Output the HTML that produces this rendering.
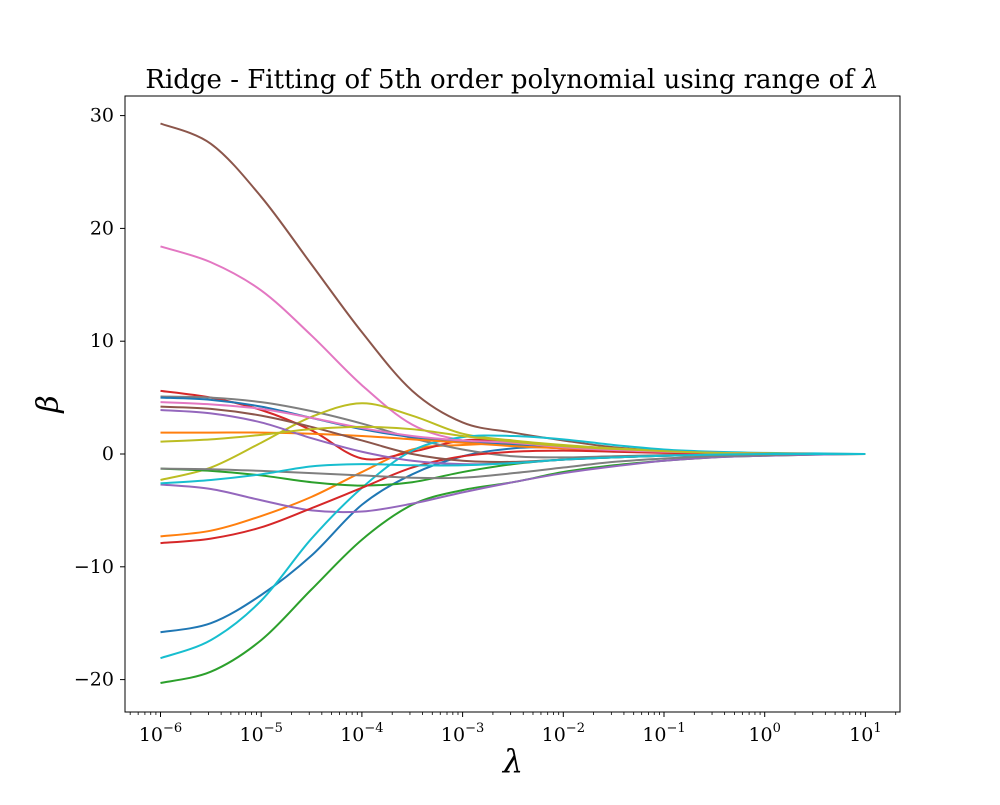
<!DOCTYPE html>
<html><head><meta charset="utf-8"><style>
html,body{margin:0;padding:0;background:#fff;}
svg text{font-family:"DejaVu Serif","Liberation Serif",serif;fill:#000;}
</style></head><body>
<svg id="chart" width="1000" height="800" xmlns="http://www.w3.org/2000/svg">
<rect width="1000" height="800" fill="#fff"/>
<text x="512" y="88" font-size="26" text-anchor="middle">Ridge - Fitting of 5th order polynomial using range of <tspan font-style="italic">λ</tspan></text>
<g id="lines"></g>
<rect x="125" y="96" width="775" height="616" fill="none" stroke="#000" stroke-width="1"/>
<g id="axes"></g>
<text x="513" y="772" font-size="32" font-style="italic" text-anchor="middle">λ</text>
<text transform="translate(58,404) rotate(-90)" font-size="30" font-style="italic" text-anchor="middle">β</text>
</svg>
<script>
const logLambda = [-6,-5.5,-5,-4.5,-4,-3.5,-3,-2.5,-2,-1.5,-1,-0.5,0,0.5,1];
const colors = ["#1f77b4","#ff7f0e","#2ca02c","#d62728","#9467bd","#8c564b","#e377c2","#7f7f7f","#bcbd22","#17becf"];
const seriesBlueLow   = [-15.8,-15,-12.5,-9,-4.5,-1.8,-0.2,0.5,0.6,0.4,0.2,0.1,0.05,0,0];
const seriesOrangeLow = [-7.3,-6.8,-5.5,-3.8,-1.6,0.4,0.8,0.9,0.7,0.4,0.2,0.1,0.05,0,0];
const seriesGreenLow  = [-20.3,-19.3,-16.5,-12,-7.6,-4.5,-3.2,-2.5,-1.6,-1,-0.6,-0.3,-0.15,-0.05,0];
const seriesRedUp     = [5.6,5.0,3.9,2.1,-0.4,0.2,1.2,1.1,0.7,0.4,0.2,0.1,0.05,0,0];
const seriesPurpleLow = [-2.7,-3.1,-4.1,-5.0,-5.1,-4.4,-3.4,-2.5,-1.7,-1.1,-0.6,-0.3,-0.15,-0.05,0];
const seriesBrownBig  = [29.3,27.5,22.8,16.8,10.8,5.6,2.8,1.9,1.2,0.6,0.3,0.15,0.05,0,0];
const seriesPinkBig   = [18.4,17,14.5,10.5,6.1,2.6,1.2,0.8,0.5,0.3,0.2,0.1,0.05,0,0];
const seriesGrayUp    = [5.1,5.0,4.6,3.8,2.7,1.4,0.4,-0.2,-0.3,-0.2,-0.1,-0.05,0,0,0];
const seriesOliveRise = [-2.3,-1.2,1.0,3.3,4.5,3.4,1.8,1.2,0.8,0.5,0.3,0.15,0.05,0,0];
const seriesCyanLow   = [-18.1,-16.5,-13,-7.5,-3.0,0.3,1.5,1.6,1.3,0.8,0.4,0.2,0.1,0.05,0];
const seriesBlueUp    = [5.0,4.8,4.2,3.2,2.2,1.5,1.1,0.8,0.5,0.3,0.2,0.1,0.05,0,0];
const seriesOrangeFlat= [1.9,1.9,1.9,1.8,1.6,1.3,1.0,0.7,0.5,0.3,0.2,0.1,0.05,0,0];
const seriesGreenMid  = [-1.3,-1.5,-1.9,-2.5,-2.8,-2.5,-1.6,-0.9,-0.5,-0.3,-0.15,-0.05,0,0,0];
const seriesRedLow    = [-7.9,-7.5,-6.5,-4.8,-3.0,-1.2,-0.2,0.2,0.3,0.2,0.1,0.05,0,0,0];
const seriesPurpleUp  = [3.9,3.6,2.8,1.4,0.2,-0.6,-0.9,-0.8,-0.5,-0.3,-0.15,-0.05,0,0,0];
const seriesBrownUp   = [4.2,4.0,3.4,2.4,1.2,0.0,-0.6,-0.7,-0.5,-0.3,-0.15,-0.05,0,0,0];
const seriesPinkUp    = [4.6,4.4,4.0,3.2,2.3,1.6,1.2,1.0,0.6,0.35,0.2,0.1,0.05,0,0];
const seriesGrayLow   = [-1.3,-1.35,-1.5,-1.7,-1.9,-2.1,-2.1,-1.7,-1.2,-0.7,-0.4,-0.2,-0.1,0,0];
const seriesOliveFlat = [1.1,1.3,1.7,2.2,2.4,2.2,1.6,1.1,0.7,0.45,0.25,0.1,0.05,0,0];
const seriesCyanMid   = [-2.6,-2.3,-1.8,-1.1,-0.9,-1.0,-1.0,-0.8,-0.5,-0.3,-0.15,-0.05,0,0,0];
const allSeries = [seriesBlueLow,seriesOrangeLow,seriesGreenLow,seriesRedUp,seriesPurpleLow,seriesBrownBig,seriesPinkBig,seriesGrayUp,seriesOliveRise,seriesCyanLow,
  seriesBlueUp,seriesOrangeFlat,seriesGreenMid,seriesRedLow,seriesPurpleUp,seriesBrownUp,seriesPinkUp,seriesGrayLow,seriesOliveFlat,seriesCyanMid];
const yTicks = [-20,-10,0,10,20,30];
const xTickExps = [-6,-5,-4,-3,-2,-1,0,1];

const NS="http://www.w3.org/2000/svg";
function xScale(l){return 160.5 + (l+6)*100.7;}
function yScale(v){return 454 - v*11.28;}
function mk(tag,attrs,parent){const e=document.createElementNS(NS,tag);for(const k in attrs)e.setAttribute(k,attrs[k]);parent.appendChild(e);return e;}
const lineG=document.getElementById('lines'), axG=document.getElementById('axes');

allSeries.forEach((s,i)=>{
  const pts=s.map((v,j)=>[xScale(logLambda[j]),yScale(v)]);
  let d="M"+pts[0][0]+","+pts[0][1];
  for(let j=0;j<pts.length-1;j++){
    const p0=pts[Math.max(0,j-1)],p1=pts[j],p2=pts[j+1],p3=pts[Math.min(pts.length-1,j+2)];
    const c1=[p1[0]+(p2[0]-p0[0])/6,p1[1]+(p2[1]-p0[1])/6];
    const c2=[p2[0]-(p3[0]-p1[0])/6,p2[1]-(p3[1]-p1[1])/6];
    d+=` C${c1[0]},${c1[1]} ${c2[0]},${c2[1]} ${p2[0]},${p2[1]}`;
  }
  const p=mk('path',{d:d,fill:'none',stroke:colors[i%10],'stroke-width':2},lineG);
  
  
});

yTicks.forEach(v=>{
  const y=yScale(v);
  mk('line',{x1:125,x2:120,y1:y,y2:y,stroke:'#000'},axG);
  const t=mk('text',{x:114,y:y+6,'font-size':19,'text-anchor':'end'},axG);
  t.textContent=(v<0?'\u2212'+(-v):String(v));
  
  
});
for(let e=-7;e<=1;e++){
  for(let m=2;m<=9;m++){
    const x=xScale(e+Math.log10(m));
    if(x<125||x>900)continue;
    mk('line',{x1:x,x2:x,y1:712,y2:715,stroke:'#000','stroke-width':0.8},axG);
  }
}
xTickExps.forEach(e=>{
  const x=xScale(e);
  mk('line',{x1:x,x2:x,y1:712,y2:717,stroke:'#000'},axG);
  const t=mk('text',{x:x,y:741,'font-size':19,'text-anchor':'middle'},axG);
  
  
  const a=document.createElementNS(NS,'tspan');a.textContent='10';t.appendChild(a);
  const b=document.createElementNS(NS,'tspan');b.setAttribute('dy','-9');b.setAttribute('font-size','13');
  b.textContent=(e<0?'\u2212'+(-e):String(e));t.appendChild(b);
});
</script>
</body></html>
